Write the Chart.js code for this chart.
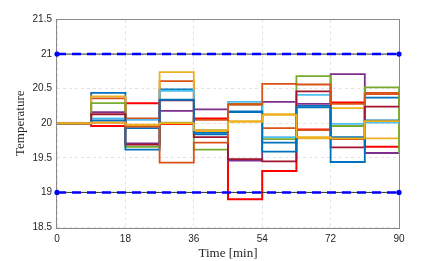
<!DOCTYPE html>
<html>
<head>
<meta charset="utf-8">
<script src="https://cdn.jsdelivr.net/npm/chart.js@4.4.1/dist/chart.umd.min.js"></script>
<style>
  html, body { margin: 0; padding: 0; background: #fff; }
  canvas { display: block; }
</style>
</head>
<body>
<canvas id="tempChart" width="442" height="261"></canvas>
<script>
// time steps (min); the last value only closes the stairs at t = 90
const times = [0, 9, 18, 27, 36, 45, 54, 63, 72, 81, 90];
const xTicks = [0, 18, 36, 54, 72, 90];
const yTicks = [18.5, 19, 19.5, 20, 20.5, 21, 21.5];
const upperLimit = 21;
const lowerLimit = 19;

// temperature per zone
const zone1  = [20, 20.44, 19.93, 20.49, 19.84, 20.16, 19.72, 20.25, 19.80, 20.37, 20.37];
const zone2  = [20, 20.36, 20.07, 20.61, 20.05, 20.28, 19.93, 19.90, 19.77, 20.44, 20.24];
const zone3  = [20, 20.39, 19.96, 20.74, 19.88, 20.03, 20.13, 19.78, 20.22, 19.78, 20.20];
const zone4  = [20, 20.16, 19.71, 20.18, 20.20, 19.46, 20.31, 20.28, 20.71, 19.57, 19.57];
const zone5  = [20, 20.29, 19.66, 20.01, 19.62, 20.27, 19.77, 20.68, 19.96, 20.52, 19.57];
const zone6  = [20, 20.07, 20.05, 20.47, 19.90, 20.31, 19.80, 20.41, 19.99, 20.01, 20.01];
const zone7  = [20, 20.13, 19.69, 20.33, 19.80, 19.48, 19.45, 20.46, 19.65, 20.24, 20.24];
const zone8  = [20, 20.04, 19.62, 20.34, 19.86, 20.17, 19.59, 20.23, 19.44, 20.04, 20.04];
const zone9  = [20, 20.01, 19.95, 19.43, 19.72, 20.27, 20.57, 20.56, 20.28, 20.42, 20.42];
const zone10 = [20, 20.01, 19.98, 20.00, 19.90, 20.02, 20.12, 19.80, 19.78, 20.03, 20.03];
const redZone = [20, 19.96, 20.29, 19.99, 20.07, 18.90, 19.31, 19.91, 20.30, 19.66, 19.66];

const colors = ['#0072BD', '#D95319', '#EDB120', '#7E2F8E', '#77AC30', '#4DBEEE', '#A2142F'];
const zones = [zone1, zone2, zone3, zone4, zone5, zone6, zone7, zone8, zone9, zone10];

const toPoints = vals => vals.map((v, i) => ({ x: times[i], y: v }));
const flat = v => [{ x: times[0], y: v }, { x: times[times.length - 1], y: v }];

// chart.js draws the first dataset on top, so reverse to keep later zones above
const zoneSets = zones.map((vals, i) => ({
  data: toPoints(vals),
  borderColor: colors[i % colors.length],
  borderWidth: 1.8,
  stepped: true,
  pointRadius: 0,
  clip: false
})).reverse();

const limitSets = [upperLimit, lowerLimit].map(v => ({
  data: flat(v),
  borderColor: '#0000ff',
  borderWidth: 2.5,
  borderDash: [9, 6],
  pointRadius: 2.6,
  pointBackgroundColor: '#0000ff',
  pointBorderWidth: 0,
  clip: false
}));
const limitBack = [upperLimit, lowerLimit].map(v => ({
  data: flat(v),
  borderColor: '#333',
  borderWidth: 1,
  pointRadius: 0,
  clip: false
}));

const redSet = {
  data: toPoints(redZone),
  borderColor: '#ff0000',
  borderWidth: 2,
  stepped: true,
  pointRadius: 0,
  clip: false
};

// axes box, drawn under the lines
const frame = {
  id: 'frame',
  beforeDatasetsDraw(chart) {
    const { ctx, chartArea: a } = chart;
    ctx.save();
    ctx.strokeStyle = '#8a8a8a';
    ctx.lineWidth = 1;
    ctx.strokeRect(Math.round(a.left) - 0.5, Math.round(a.top) - 0.5,
      Math.round(a.right - a.left) + 1, Math.round(a.bottom - a.top) + 1);
    ctx.restore();
  }
};

const tickFont = { family: '"Liberation Sans", Arial, sans-serif', size: 10 };
const titleFont = { family: '"Liberation Serif", "Times New Roman", serif', size: 13 };

new Chart(document.getElementById('tempChart'), {
  type: 'line',
  data: { datasets: [...limitSets, ...limitBack, ...zoneSets, redSet] },
  options: {
    responsive: false,
    animation: false,
    devicePixelRatio: 1,
    layout: { padding: { top: 19.5, right: 43, left: 0, bottom: 0 } },
    plugins: { legend: { display: false }, tooltip: { enabled: false } },
    scales: {
      x: {
        type: 'linear',
        min: 0,
        max: 90,
        afterBuildTicks: s => { s.ticks = xTicks.map(v => ({ value: v })); },
        afterFit: s => { s.height = 34; },
        grid: { color: 'rgba(0,0,0,0.11)', drawTicks: false },
        border: { display: false, dash: [3, 3] },
        ticks: { font: tickFont, color: '#262626', padding: 6, maxRotation: 0 },
        title: { display: true, text: 'Time [min]', font: titleFont, color: '#262626', padding: 0 }
      },
      y: {
        min: 18.5,
        max: 21.5,
        afterBuildTicks: s => { s.ticks = yTicks.map(v => ({ value: v })); },
        afterFit: s => { s.width = 57; },
        grid: { color: 'rgba(0,0,0,0.11)', drawTicks: false },
        border: { display: false, dash: [3, 3] },
        ticks: { font: tickFont, color: '#262626', padding: 5, callback: v => String(v) },
        title: { display: true, text: 'Temperature', font: titleFont, color: '#262626', padding: { top: 13, bottom: 0 } }
      }
    }
  },
  plugins: [frame]
});
</script>
</body>
</html>
